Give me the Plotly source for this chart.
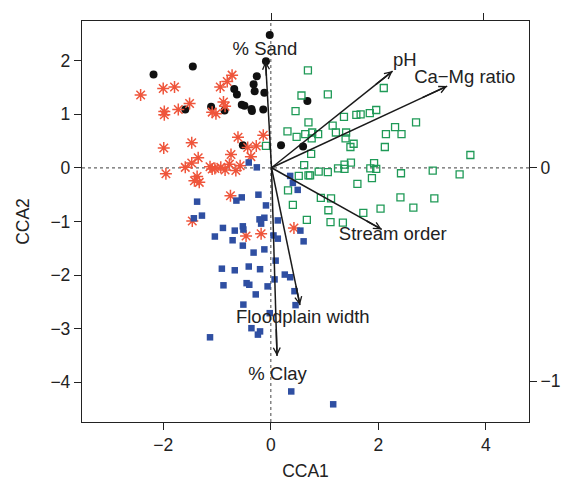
import plotly.graph_objects as go

# --- site scores (CCA1, CCA2) ---
black_x = [-0.02, -0.09, -1.45, -2.18, -0.26, -0.32, -0.68, -0.30, -0.12, -0.63, -1.11,
           -0.54, -0.49, -1.59, -0.86, -0.36, -0.35, -0.14, -0.52, 0.19, 0.68, 0.60]
black_y = [2.48, 1.99, 1.89, 1.74, 1.71, 1.56, 1.47, 1.43, 1.40, 1.37, 1.14,
           1.18, 1.16, 1.09, 1.07, 1.10, 1.06, 1.09, 0.42, 0.42, 1.25, 0.40]

red_x = [-0.72, -0.81, -0.94, -1.79, -2.00, -2.42, -1.51, -0.88, -0.85, -1.72, -1.98,
         -1.98, -1.09, -1.02, -0.61, -0.14, -1.47, -1.99, -0.43, -0.27, -0.74, -0.37,
         -1.35, -1.47, -1.59, -1.13, -1.09, -1.04, -0.93, -0.85, -0.77, -0.65, -0.57,
         -1.95, -1.37, -1.42, -1.33, -0.75, -1.46, -0.46, -0.18, 0.43]
red_y = [1.73, 1.61, 1.51, 1.51, 1.48, 1.36, 1.20, 1.23, 1.15, 1.09, 1.05,
         0.99, 1.04, 1.01, 0.57, 0.61, 0.47, 0.37, 0.38, 0.41, 0.25, 0.21,
         0.19, 0.09, 0.01, 0.02, -0.02, -0.01, 0.01, -0.04, 0.07, -0.05, 0.04,
         -0.11, -0.16, -0.24, -0.27, -0.52, -0.99, -1.27, -1.23, -1.12]

green_x = [0.69, 2.10, 1.06, 0.57, 0.46, 1.96, 1.84, 1.67, 1.59, 1.36, 0.70, 2.70, 1.15,
           2.31, 0.31, 0.77, 0.64, 0.88, 1.21, 1.40, 2.14, 2.43, 0.48, 0.76, 1.39, 1.54,
           1.48, 2.12, -0.09, 0.75, 3.71, 0.62, 1.49, 1.37, 1.25, 1.37, 1.92, 1.85, 1.96,
           0.89, 1.06, 2.42, 3.01, 3.51, 0.52, 0.70, 0.73, 1.88, 1.61, 0.32, 0.93, 1.12,
           2.41, 3.04, 0.41, 1.07, 2.04, 2.65, 1.72, 0.67, 1.11, 1.34]
green_y = [1.82, 1.49, 1.37, 1.35, 1.06, 1.08, 1.02, 1.00, 0.99, 0.95, 0.85, 0.85, 0.79,
           0.76, 0.68, 0.66, 0.63, 0.63, 0.66, 0.66, 0.63, 0.63, 0.58, 0.55, 0.55, 0.45,
           0.39, 0.39, 0.41, 0.26, 0.24, 0.05, 0.10, 0.06, -0.01, -0.02, 0.09, -0.01, -0.02,
           -0.07, -0.08, -0.10, -0.05, -0.12, -0.15, -0.14, -0.14, -0.19, -0.30, -0.42, -0.56, -0.57,
           -0.55, -0.57, -0.69, -0.79, -0.76, -0.74, -0.84, -0.97, -1.01, -1.02]

blue_x = [-0.41, -0.26, 0.36, 0.41, 0.50, -0.23, -0.54, -0.64, -1.37, -0.09, -1.28, -1.43,
          -0.12, -0.21, -0.18, 0.13, -0.89, -0.67, -0.52, -0.51, -1.04, -0.71, 0.05, 0.13,
          0.55, 0.61, -0.52, -0.12, -0.32, 0.09, -0.91, -0.67, -0.41, -0.20, 0.26, 0.36,
          0.07, -0.88, -0.45, -0.40, -0.06, 0.44, -0.28, -0.51, 0.46, -0.02, -0.36, -0.20,
          -0.24, -1.13, 0.38, 1.16]
blue_y = [0.10, 0.01, -0.15, -0.28, -0.41, -0.50, -0.55, -0.61, -0.63, -0.70, -0.89, -0.94,
          -0.93, -0.96, -1.04, -0.98, -1.12, -1.17, -1.09, -1.15, -1.28, -1.35, -1.26, -1.32,
          -1.17, -1.37, -1.45, -1.52, -1.58, -1.73, -1.88, -1.91, -1.84, -1.89, -1.99, -2.04,
          -2.08, -2.19, -2.15, -2.18, -2.21, -2.30, -2.36, -2.55, -2.56, -2.71, -2.99, -3.05,
          -3.11, -3.16, -4.17, -4.41]

# --- environmental biplot arrows (top / right axis scale) ---
env_names = ["% Sand", "pH", "Ca\u2212Mg ratio", "Stream order", "Floodplain width", "% Clay"]
env_x = [-0.028, 0.570, 0.827, 0.519, 0.134, 0.026]
env_y = [0.500, 0.453, 0.383, -0.289, -0.644, -0.883]
label_mult = 1.1

x_ticks = [-2, 0, 2, 4]
y_ticks = [-4, -3, -2, -1, 0, 1, 2]
right_ticks = [-1, 0]
top_ticks = [0, 1]

def fmt(v):
    return ("\u2212" + str(abs(v))) if v < 0 else str(v)

FONT = "Liberation Sans, Arial, sans-serif"
TXT = "#222222"

fig = go.Figure()

fig.add_trace(go.Scatter(x=black_x, y=black_y, mode="markers",
                         marker=dict(symbol="circle", size=8, color="#111111"),
                         showlegend=False, hoverinfo="skip"))
fig.add_trace(go.Scatter(x=red_x, y=red_y, mode="markers",
                         marker=dict(symbol="asterisk-open", size=10,
                                     line=dict(color="#f0102e", width=1.5)),
                         showlegend=False, hoverinfo="skip"))
fig.add_trace(go.Scatter(x=green_x, y=green_y, mode="markers",
                         marker=dict(symbol="square-open", size=7, color="#1f9a57",
                                     line=dict(color="#1f9a57", width=1.3)),
                         showlegend=False, hoverinfo="skip"))
fig.add_trace(go.Scatter(x=blue_x, y=blue_y, mode="markers",
                         marker=dict(symbol="square", size=6.5, color="#2f4fa2"),
                         showlegend=False, hoverinfo="skip"))

# arrow shafts
sx, sy = [], []
for ex, ey in zip(env_x, env_y):
    sx += [0, ex, None]
    sy += [0, ey, None]
fig.add_trace(go.Scatter(x=sx, y=sy, mode="lines", xaxis="x2", yaxis="y2",
                         line=dict(color="#1a1a1a", width=1.5),
                         showlegend=False, hoverinfo="skip"))
# arrow labels
fig.add_trace(go.Scatter(x=[v * label_mult for v in env_x],
                         y=[v * label_mult for v in env_y],
                         text=env_names, mode="text", xaxis="x2", yaxis="y2",
                         textfont=dict(family=FONT, size=18.5, color=TXT),
                         textposition="middle center",
                         showlegend=False, hoverinfo="skip"))

annotations = []
for ex, ey in zip(env_x, env_y):
    annotations.append(dict(x=ex, y=ey, ax=ex * 0.85, ay=ey * 0.85,
                            xref="x2", yref="y2", axref="x2", ayref="y2",
                            text="", showarrow=True, arrowhead=5, arrowsize=0.9,
                            arrowwidth=1.5, arrowcolor="#1a1a1a", standoff=0))

shapes = [
    dict(type="line", xref="x", yref="paper", x0=0, x1=0, y0=0, y1=1,
         line=dict(color="#666666", width=1.2, dash="dot"), layer="below"),
    dict(type="line", xref="paper", yref="y", x0=0, x1=1, y0=0, y1=0,
         line=dict(color="#666666", width=1.2, dash="dot"), layer="below"),
]

axis_common = dict(showgrid=False, zeroline=False, ticks="outside", ticklen=7,
                   tickwidth=1.2, tickcolor="#222222", automargin=False,
                   tickfont=dict(family=FONT, size=17.5, color=TXT))

fig.update_layout(
    width=567, height=481,
    margin=dict(l=82, r=38, t=21, b=59, autoexpand=False),
    paper_bgcolor="white", plot_bgcolor="white",
    font=dict(family=FONT, size=17, color=TXT),
    xaxis=dict(range=[-3.51, 4.80], tickvals=x_ticks, ticktext=[fmt(v) for v in x_ticks],
               showline=True, linecolor="#222222", linewidth=1.3, mirror=True,
               title=dict(text="CCA1", font=dict(family=FONT, size=17.5, color=TXT), standoff=14),
               **axis_common),
    yaxis=dict(range=[-4.74, 2.74], tickvals=y_ticks, ticktext=[fmt(v) for v in y_ticks],
               showline=True, linecolor="#222222", linewidth=1.3, mirror=True,
               title=dict(text="CCA2", font=dict(family=FONT, size=17.5, color=TXT), standoff=16),
               **axis_common),
    xaxis2=dict(overlaying="x", side="top", anchor="y", range=[-0.892, 1.212],
                tickvals=top_ticks, showticklabels=False, showline=False, **axis_common),
    yaxis2=dict(overlaying="y", side="right", anchor="x", range=[-1.192, 0.688],
                tickvals=right_ticks, ticktext=[fmt(v) for v in right_ticks],
                showline=False, **axis_common),
    annotations=annotations,
    shapes=shapes,
)

fig.write_html("out.html", config={"displayModeBar": False},
               post_script="document.body.style.margin='0';document.body.style.overflow='hidden';")
